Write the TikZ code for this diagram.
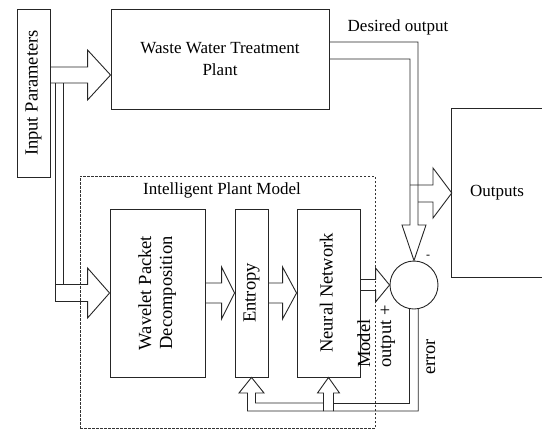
\documentclass[tikz,border=0pt]{standalone}
\usepackage{fontspec}
\setmainfont{Liberation Serif}
\usetikzlibrary{calc}
\newcommand{\vlab}[1]{\rotatebox{90}{\begin{tabular}{@{}c@{}}#1\end{tabular}}}
\newcommand{\vlabl}[1]{\rotatebox{90}{\begin{tabular}{@{}l@{}}#1\end{tabular}}}
\newcommand{\hblock}[5]{\draw[conn] let \p1=(#1), \p2=(#2) in (\x1,\y2+#3) -- (\x2-#5,\y2+#3) -- (\x2-#5,\y2+#4) -- (\x2,\y2) -- (\x2-#5,\y2-#4) -- (\x2-#5,\y2-#3) -- (\x1,\y2-#3);}
\tikzset{
  box/.style={draw=black!85, line width=0.9pt, inner sep=0pt, align=center},
  conn/.style={draw=black!85, line width=0.9pt, line join=miter},
  htxt/.style={font=\fontsize{17}{22}\selectfont},
  vtxt/.style={font=\fontsize{18.5}{21}\selectfont},
  dashbox/.style={draw=black!80, line width=0.9pt, dash pattern=on 2.5pt off 1.5pt, inner sep=0pt}
}
\begin{document}
\begin{tikzpicture}[x=1pt,y=-1pt]
\useasboundingbox (0,0) rectangle (542,432);
% boxes
\node[box, vtxt, minimum width=33pt, minimum height=168pt] (inp) at (33.5,93) {\vlab{Input Parameters}};
\node[box, htxt, minimum width=218pt, minimum height=100pt] (wwtp) at (220,59) {Waste Water Treatment\\Plant};
\node[htxt, inner sep=0pt, minimum width=90pt, minimum height=168pt] (outputs) at (497,193) {Outputs};
\draw[conn] (outputs.north east) -- (outputs.north west) -- (outputs.south west) -- (outputs.south east);
\node[dashbox, minimum width=295pt, minimum height=252pt] (ipm) at (227.5,302) {};
\node[htxt, inner sep=0pt] (ipmtitle) at (222,190) {Intelligent Plant Model};
\node[box, vtxt, minimum width=95pt, minimum height=168pt] (wpd) at (157.5,293) {\vlab{Wavelet Packet\\Decomposition}};
\node[box, vtxt, minimum width=33pt, minimum height=168pt] (ent) at (251.5,293) {\vlab{Entropy}};
\node[box, vtxt, minimum width=63pt, minimum height=168pt] (nn) at (328.5,293) {\vlab{Neural Network}};
\node[draw=black!85, line width=0.9pt, circle, minimum size=48pt, inner sep=0pt] (sum) at (414,285) {};
% labels
\node[htxt, inner sep=0pt] (desired) at (398,27) {Desired output};
\node[vtxt, inner sep=0pt, anchor=south] (modelout) at (376.5,368) {\vlabl{Model\\output +}};
\node[vtxt, inner sep=0pt] (err) at (431,357) {\vlab{error}};
\node[font=\fontsize{12}{12}\selectfont, inner sep=0pt] (minus) at (428,257) {-};
% top block arrow
\coordinate (tipA) at ([yshift=-16pt]wwtp.west);
\hblock{inp.east}{tipA}{8pt}{25pt}{23pt}
% bus down to WPD
\coordinate (busL) at (55,83);
\coordinate (busR) at (63,83);
\hblock{busL}{wpd.west}{8.5pt}{25pt}{22pt}
\draw[conn] (busL) -- (55,301.5);
\draw[conn] (busR) -- (63,284.5);
% inner chain
\hblock{wpd.east}{ent.west}{10pt}{26pt}{13pt}
\hblock{ent.east}{nn.west}{10pt}{26pt}{14pt}
\hblock{nn.east}{sum.west}{5.5pt}{17pt}{14pt}
% desired output to summing junction
\draw[conn] ([yshift=17pt]wwtp.east) -| (418,225) -- (426,225) -- (sum.north) -- (402,225) -- (410,225) |- (wwtp.east);
% outputs arrow
\draw[conn] (410,185) -- (433,185) -- (433,168) -- (outputs.west) -- (433,218) -- (433,202) -- (418,202);
% error feedback
\draw[conn] (sum.280) |- (247.5,411) -- (247.5,393) -- (239,393) -- (ent.south) -- (264,393) -- (255.5,393) |- (323.5,403);
\draw[conn] (333.5,403) -| (sum.260);
\draw[conn] (323.5,411) -- (323.5,393) -- (317.5,393) -- (nn.south) -- (339.5,393) -- (333.5,393) -- (333.5,411);
\end{tikzpicture}
\end{document}
